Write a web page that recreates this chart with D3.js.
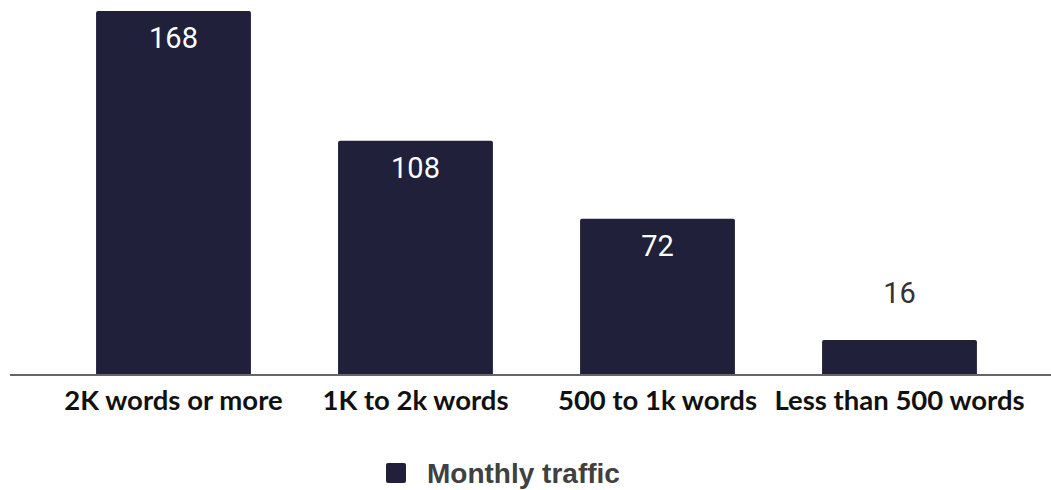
<!DOCTYPE html>
<html>
<head>
<meta charset="utf-8">
<script src="https://cdn.jsdelivr.net/npm/d3@7"></script>
<style>
  html, body { margin: 0; padding: 0; background: #ffffff; }
  svg { display: block; }
</style>
</head>
<body>
<svg id="chart" width="1051" height="490"></svg>
<script>
const categories = ["2K words or more", "1K to 2k words", "500 to 1k words", "Less than 500 words"];
const values = [168, 108, 72, 16];
const seriesName = "Monthly traffic";

const svg = d3.select("#chart");
const barColor = "#20203a";

const x = d3.scaleBand()
  .domain(categories)
  .range([52.5, 1020.5])
  .paddingInner(0.36)
  .paddingOuter(0.18);

const y = d3.scaleLinear()
  .domain([0, 168])
  .range([374.5, 11]);

function barPath(d, i) {
  const x0 = x(categories[i]), w = x.bandwidth();
  const y0 = y(d), y1 = y(0), r = 2;
  return `M${x0},${y1} L${x0},${y0 + r} Q${x0},${y0} ${x0 + r},${y0} L${x0 + w - r},${y0} Q${x0 + w},${y0} ${x0 + w},${y0 + r} L${x0 + w},${y1} Z`;
}

svg.append("g").selectAll("path")
  .data(values)
  .join("path")
  .attr("d", (d, i) => barPath(d, i))
  .attr("fill", barColor);

const xAxis = d3.axisBottom(x).tickSize(0).tickPadding(0);
const gx = svg.append("g")
  .attr("transform", `translate(0,${y(0) + 0.5})`)
  .call(xAxis);
gx.select(".domain")
  .attr("d", "M10,0H1051")
  .attr("stroke", "#666666")
  .attr("stroke-width", 2);
gx.selectAll(".tick text")
  .attr("dy", null)
  .attr("y", 35)
  .attr("font-family", "Lato")
  .attr("font-weight", "bold")
  .attr("font-size", 27.5)
  .attr("fill", "#111111");

svg.append("g").selectAll("text")
  .data(values)
  .join("text")
  .attr("x", (d, i) => x(categories[i]) + x.bandwidth() / 2)
  .attr("y", d => (y(0) - y(d) > 60) ? y(d) + 37 : y(d) - 37)
  .attr("text-anchor", "middle")
  .attr("font-family", "Roboto")
  .attr("font-size", 29)
  .attr("fill", d => (y(0) - y(d) > 60) ? "#ffffff" : "#333333")
  .text(d => d);

const lg = svg.append("g");
lg.append("rect")
  .attr("x", 386).attr("y", 463)
  .attr("width", 20).attr("height", 20)
  .attr("rx", 2)
  .attr("fill", barColor);
lg.append("text")
  .attr("x", 427).attr("y", 483)
  .attr("font-family", "Liberation Sans, Arial, sans-serif")
  .attr("font-weight", "bold")
  .attr("font-size", 28)
  .attr("fill", "#404040")
  .text(seriesName);
</script>
</body>
</html>
